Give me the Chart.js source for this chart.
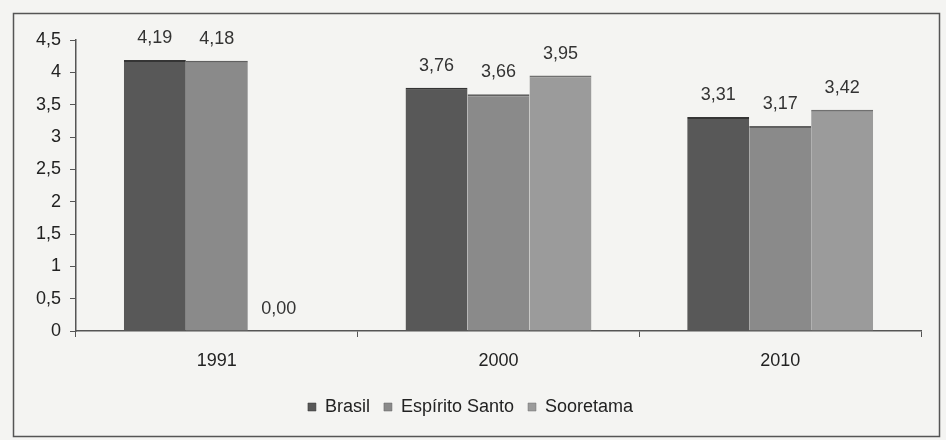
<!DOCTYPE html>
<html>
<head>
<meta charset="utf-8">
<script src="https://cdn.jsdelivr.net/npm/chart.js@4.4.0/dist/chart.umd.min.js"></script>
<style>
  html, body { margin: 0; padding: 0; background: #f3f3f1; }
  #wrap { width: 946px; height: 440px; position: relative; }
</style>
</head>
<body>
<div id="wrap"><canvas id="c" width="946" height="440"></canvas></div>
<script>
const categories = ['1991', '2000', '2010'];
const seriesNames = ['Brasil', 'Espírito Santo', 'Sooretama'];
const brasil = [4.19, 3.76, 3.31];
const espiritoSanto = [4.18, 3.66, 3.17];
const sooretama = [0.00, 3.95, 3.42];
const seriesColors = ['#585858', '#8a8a8a', '#9b9b9b'];
const topColors = ['#353535', '#606060', '#707070'];

const fmt = v => v.toFixed(2).replace('.', ',');
const FONT = '"Liberation Sans", Arial, sans-serif';

const frameAndLabels = {
  id: 'frameAndLabels',
  beforeDraw(chart) {
    const ctx = chart.ctx;
    ctx.save();
    ctx.fillStyle = '#f4f4f2';
    ctx.fillRect(0, 0, chart.width, chart.height);
    ctx.strokeStyle = '#555';
    ctx.lineWidth = 1.5;
    ctx.strokeRect(13.5, 13.5, 926, 423);
    ctx.restore();
  },
  afterDatasetsDraw(chart) {
    const ctx = chart.ctx;
    ctx.save();
    ctx.font = '18px ' + FONT;
    ctx.fillStyle = '#333';
    ctx.textAlign = 'center';
    ctx.textBaseline = 'middle';
    chart.data.datasets.forEach((ds, i) => {
      const meta = chart.getDatasetMeta(i);
      meta.data.forEach((bar, j) => {
        ctx.fillText(fmt(ds.data[j]), bar.x, bar.y - 22);
      });
    });
    ctx.restore();
  }
};

const allSeries = [brasil, espiritoSanto, sooretama];

new Chart(document.getElementById('c'), {
  type: 'bar',
  data: {
    labels: categories,
    datasets: allSeries.map((d, i) => ({
      label: seriesNames[i],
      data: d,
      backgroundColor: seriesColors[i],
      borderColor: topColors[i],
      borderWidth: { top: 2, left: 0, right: 0, bottom: 0 },
      borderSkipped: false,
      categoryPercentage: 0.66,
      barPercentage: 1.0
    }))
  },
  options: {
    responsive: false,
    animation: false,
    devicePixelRatio: 1,
    layout: { padding: { left: 20, right: 25, top: 40, bottom: 14 } },
    plugins: {
      legend: {
        position: 'bottom',
        labels: {
          boxWidth: 8,
          boxHeight: 8,
          padding: 14,
          color: '#222',
          font: { family: FONT, size: 18 }
        }
      },
      tooltip: { enabled: false }
    },
    scales: {
      x: {
        afterFit: s => { s.height = 53; },
        grid: { display: true, drawOnChartArea: false, drawTicks: true, tickLength: 6, color: '#555', offset: true },
        border: { display: true, color: '#555', width: 1.5 },
        ticks: { color: '#222', padding: 13, font: { family: FONT, size: 18 } }
      },
      y: {
        min: 0,
        max: 4.5,
        afterFit: s => { s.width = 56; },
        ticks: {
          stepSize: 0.5,
          color: '#222',
          padding: 9,
          font: { family: FONT, size: 18 },
          callback: v => String(v).replace('.', ',')
        },
        grid: { display: true, drawOnChartArea: false, drawTicks: true, tickLength: 6, color: '#555' },
        border: { display: true, color: '#555', width: 1.5 }
      }
    }
  },
  plugins: [frameAndLabels]
});
</script>
</body>
</html>
